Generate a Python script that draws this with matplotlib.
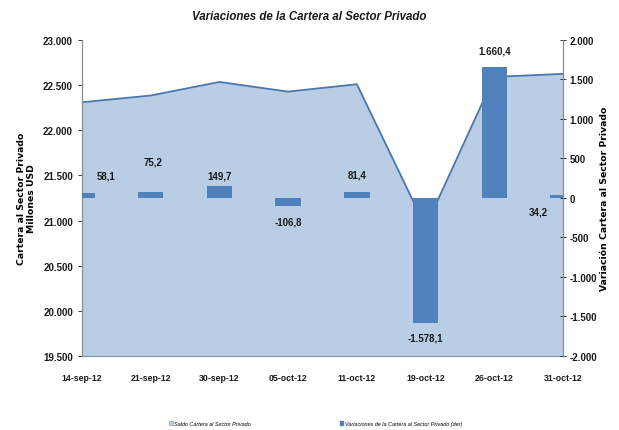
import matplotlib
matplotlib.use('Agg')
import matplotlib.pyplot as plt
import matplotlib.ticker as mticker
from matplotlib.patches import Patch

# =============================================================================
# DATA
# =============================================================================
fechas = ['14-sep-12', '21-sep-12', '30-sep-12', '05-oct-12',
          '11-oct-12', '19-oct-12', '26-oct-12', '31-oct-12']
saldo = [22310, 22385, 22535, 22428, 22510, 20931, 22591, 22625]
variacion = [58.1, 75.2, 149.7, -106.8, 81.4, -1578.1, 1660.4, 34.2]
# label offsets in points (dx, dy) relative to bar end
label_offsets = [(17, 13), (2, 22), (0, 8), (0, -11), (0, 12), (0, -11), (0, 12), (-18, -12)]

left_ticks = [19500, 20000, 20500, 21000, 21500, 22000, 22500, 23000]
right_ticks = [-2000, -1500, -1000, -500, 0, 500, 1000, 1500, 2000]

AREA_FILL = '#B9CDE5'
AREA_LINE = '#4A76AE'
BAR_COLOR = '#4F81BD'
AXIS_GRAY = '#8C8C8C'

plt.rcParams['font.family'] = ['Liberation Sans', 'DejaVu Sans']


def es_num(x, decimals=0):
    """Spanish number format: '.' thousands, ',' decimals."""
    s = f"{x:,.{decimals}f}"
    return s.replace(',', '#').replace('.', ',').replace('#', '.')


# =============================================================================
# CHART
# =============================================================================
fig = plt.figure(figsize=(6.19, 4.31), dpi=100)
ax = fig.add_axes([0.1325, 0.1717, 0.777, 0.7332])
x = list(range(len(fechas)))

ax.fill_between(x, saldo, left_ticks[0], color=AREA_FILL, linewidth=0, zorder=1)
ax.plot(x, saldo, color=AREA_LINE, linewidth=1.3, zorder=2)
ax.set_xlim(0, len(fechas) - 1)
ax.set_ylim(left_ticks[0], left_ticks[-1])
ax.set_yticks(left_ticks)
ax.yaxis.set_major_formatter(mticker.FuncFormatter(lambda v, p: es_num(v)))
ax.set_xticks(x)
ax.set_xticklabels(fechas)

ax2 = ax.twinx()
ax2.bar(x, variacion, width=0.37, color=BAR_COLOR, zorder=3, clip_on=True)
ax2.set_ylim(right_ticks[0], right_ticks[-1])
ax2.set_yticks(right_ticks)
ax2.yaxis.set_major_formatter(mticker.FuncFormatter(lambda v, p: es_num(v)))

for xi, v, (dx, dy) in zip(x, variacion, label_offsets):
    ax2.annotate(es_num(v, 1), xy=(xi, v), xytext=(dx, dy), textcoords='offset points',
                 ha='center', va='center', fontsize=7, fontweight='bold', color='#1a1a1a',
                 annotation_clip=False)

for a in (ax, ax2):
    a.spines['top'].set_visible(False)
    for side in ('left', 'right', 'bottom'):
        a.spines[side].set_color(AXIS_GRAY)
        a.spines[side].set_linewidth(0.8)
    a.tick_params(axis='both', labelsize=7, colors='#1a1a1a', length=3, width=0.6)
    for lab in a.get_yticklabels():
        lab.set_fontweight('bold')
ax2.tick_params(axis='y', direction='inout', length=5, pad=2)
ax.tick_params(axis='x', length=0, pad=12)
for lab in ax.get_xticklabels():
    lab.set_fontweight('bold')
    lab.set_fontsize(6.3)
ax2.spines['bottom'].set_visible(False)
ax.spines['bottom'].set_color('#7F8FA6')

ax.set_ylabel('Cartera al Sector Privado\nMillones USD', family='DejaVu Sans',
              fontsize=6.7, fontweight='bold', linespacing=1.05)
ax.yaxis.set_label_coords(-0.096, 0.5)
ax2.set_ylabel('Variación Cartera al Sector Privado', family='DejaVu Sans',
               fontsize=6.7, fontweight='bold')
ax2.yaxis.set_label_coords(1.078, 0.5)

fig.text(0.5, 0.96, 'Variaciones de la Cartera al Sector Privado', ha='center', va='center',
         fontsize=8.3, fontweight='bold', style='italic', color='#1a1a1a')

handles = [Patch(facecolor=AREA_FILL, edgecolor='#7F8FA6', linewidth=0.4),
           Patch(facecolor=BAR_COLOR, edgecolor=BAR_COLOR)]
fig.legend(handles, ['Saldo Cartera al Sector Privado',
                     'Variaciones de la Cartera al Sector Privado (der)'],
           loc='center', bbox_to_anchor=(0.51, 0.015), ncol=2, frameon=False,
           prop={'size': 4, 'style': 'italic'}, handlelength=0.6, handleheight=0.6,
           handletextpad=0.3, columnspacing=16)

fig.savefig('out.png', dpi=100)
plt.close(fig)
